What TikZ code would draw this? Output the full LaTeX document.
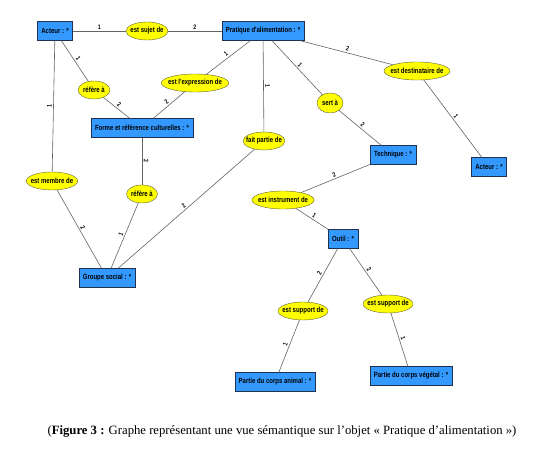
\documentclass[tikz,border=0pt]{standalone}
\usepackage{fontspec}
\setmainfont{Liberation Serif}
\newfontfamily\diagfont[FakeStretch=0.8]{Liberation Sans}
\usetikzlibrary{positioning,shapes.geometric}
\definecolor{boxblue}{RGB}{51,153,255}
\definecolor{boxedge}{RGB}{30,50,80}
\definecolor{ovalyellow}{RGB}{255,255,0}
\definecolor{ovaledge}{RGB}{100,100,60}
\definecolor{linkgray}{RGB}{100,100,100}

\begin{document}
\begin{tikzpicture}[
    on grid,
    font=\diagfont\bfseries\fontsize{7.5}{8}\selectfont,
    entity/.style={rectangle, draw=boxedge, fill=boxblue, minimum height=19pt, inner xsep=4pt, inner ysep=0pt},
    relation/.style={ellipse, draw=ovaledge, fill=ovalyellow, minimum height=18pt, minimum width=29pt, inner xsep=-3pt, inner ysep=0pt},
    link/.style={draw=linkgray, line width=0.6pt},
    card/.style={font=\diagfont\bfseries\fontsize{6.5}{7}\selectfont, sloped, above, inner sep=1.5pt},
    legend/.style={font=\normalfont\fontsize{12.7}{14}\selectfont}
]
    \useasboundingbox (0,0) rectangle (548pt,-449pt);

    % Nodes
    \node [entity] (acteur) at (55pt,-31pt) {Acteur : *};
    \node [relation, right=92pt of acteur, minimum width=42pt] (sujet) {est sujet de};
    \node [entity, right=116pt of sujet] (pratique) {Pratique d'alimentation : *};
    \node [relation, below right=59pt and 39pt of acteur, minimum width=32pt] (refere) {réfère à};
    \node [relation, below left=52pt and 68pt of pratique] (expression) {est l'expression de};
    \node [entity, below right=38pt and 48pt of refere] (forme) {Forme et référence culturelles : *};
    \node [relation, below right=110pt and 1pt of pratique, minimum width=42pt] (faitpartie) {fait partie de};
    \node [relation, below right=40pt and 154pt of pratique] (destinataire) {est destinataire de};
    \node [entity, below right=96pt and 72pt of destinataire] (acteurB) {Acteur : *};
    \node [relation, below right=72pt and 67pt of pratique, minimum width=26pt, minimum height=20pt] (sert) {sert à};
    \node [entity, below right=52pt and 63pt of sert] (technique) {Technique : *};
    \node [relation, below left=150pt and 3pt of acteur] (membre) {est membre de};
    \node [relation, below=66pt of forme, minimum width=31pt] (refereB) {réfère à};
    \node [entity, below left=84pt and 35pt of refereB] (groupe) {Groupe social : *};
    \node [relation, below left=45pt and 110pt of technique] (instrument) {est instrument de};
    \node [entity, below right=39pt and 60pt of instrument] (outil) {Outil : *};
    \node [relation, below left=72pt and 40pt of outil] (supportA) {est support de};
    \node [relation, below right=65pt and 45pt of outil] (supportB) {est support de};
    \node [entity, below left=71pt and 28pt of supportA] (animal) {Partie du corps animal : *};
    \node [entity, below right=72pt and 23pt of supportB] (vegetal) {Partie du corps végétal : *};

    % Links
    \draw [link] (acteur) -- node [card] {1} (sujet);
    \draw [link] (sujet) -- node [card] {2} (pratique);
    \draw [link] (acteur) -- node [card] {1} (refere);
    \draw [link] (refere) -- node [card] {2} (forme);
    \draw [link] (pratique) -- node [card] {1} (expression);
    \draw [link] (expression) -- node [card] {2} (forme);
    \draw [link] (pratique) -- node [card] {1} (faitpartie);
    \draw [link] (faitpartie) -- node [card] {2} (groupe);
    \draw [link] (pratique) -- node [card] {1} (sert);
    \draw [link] (sert) -- node [card] {2} (technique);
    \draw [link] (pratique) -- node [card] {2} (destinataire);
    \draw [link] (destinataire) -- node [card] {1} (acteurB);
    \draw [link] (acteur) -- node [card] {1} (membre);
    \draw [link] (membre) -- node [card] {2} (groupe);
    \draw [link] (forme) -- node [card] {2} (refereB);
    \draw [link] (refereB) -- node [card] {1} (groupe);
    \draw [link] (technique) -- node [card] {2} (instrument);
    \draw [link] (instrument) -- node [card] {1} (outil);
    \draw [link] (outil) -- node [card] {2} (supportA);
    \draw [link] (outil) -- node [card] {2} (supportB);
    \draw [link] (supportA) -- node [card] {1} (animal);
    \draw [link] (supportB) -- node [card] {1} (vegetal);

    % Caption
    \node [legend] (titre) at (282pt,-431pt) {(\textbf{Figure 3 :} Graphe représentant une vue sémantique sur l’objet « Pratique d’alimentation »)};
\end{tikzpicture}
\end{document}
